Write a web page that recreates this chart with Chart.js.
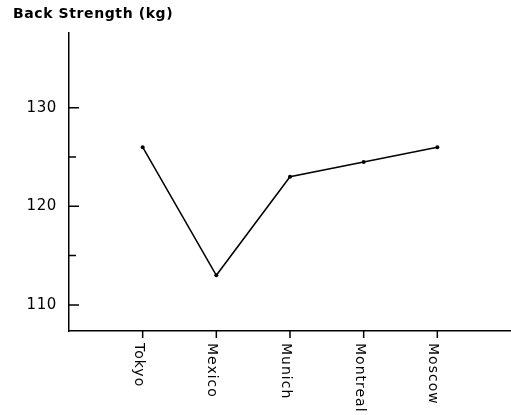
<!DOCTYPE html>
<html>
<head>
<meta charset="utf-8">
<script src="https://cdn.jsdelivr.net/npm/chart.js@4/dist/chart.umd.min.js"></script>
<style>
  html, body { margin: 0; padding: 0; background: #fff; }
  #wrap { width: 511px; height: 415px; }
</style>
</head>
<body>
<div id="wrap"><canvas id="c"></canvas></div>
<script>
// Olympic venues and mean back strength (kg)
const games = ['Tokyo', 'Mexico', 'Munich', 'Montreal', 'Moscow'];
const backStrength = [126, 113, 123, 124.5, 126];
const yTickValues = [110, 120, 130];
const yMinorTicks = [115, 125];
const yRange = [107.35, 137.6];
const titleText = 'Back Strength (kg)';

const ink = '#000';

// Slightly open letter spacing for the title and axis numbers
const textSpacing = {
  id: 'textSpacing',
  beforeDraw(chart) { chart.ctx.letterSpacing = '0.6px'; }
};

// Inward tick marks on the y axis, downward ticks and rotated venue names on the x axis
const axisMarks = {
  id: 'axisMarks',
  afterDraw(chart) {
    const ctx = chart.ctx;
    const xs = chart.scales.x, ys = chart.scales.y;
    const ax = chart.chartArea.left, ay = chart.chartArea.bottom;
    ctx.save();
    ctx.strokeStyle = ink;
    ctx.lineWidth = 1.5;
    ctx.beginPath();
    yTickValues.forEach(v => {
      const p = ys.getPixelForValue(v);
      ctx.moveTo(ax, p); ctx.lineTo(ax + 10, p);
    });
    yMinorTicks.forEach(v => {
      const p = ys.getPixelForValue(v);
      ctx.moveTo(ax, p); ctx.lineTo(ax + 7, p);
    });
    games.forEach((g, i) => {
      const p = xs.getPixelForValue(i);
      ctx.moveTo(p, ay); ctx.lineTo(p, ay + 7);
    });
    ctx.stroke();

    ctx.fillStyle = ink;
    ctx.font = '14px "DejaVu Sans"';
    ctx.letterSpacing = '1px';
    ctx.textAlign = 'left';
    ctx.textBaseline = 'alphabetic';
    games.forEach((g, i) => {
      const p = xs.getPixelForValue(i);
      ctx.save();
      ctx.translate(p - 8, ay + 12);
      ctx.rotate(Math.PI / 2);
      ctx.fillText(g, 0, 0);
      ctx.restore();
    });
    ctx.restore();
    ctx.letterSpacing = '0px';
  }
};

new Chart(document.getElementById('c'), {
  type: 'line',
  data: {
    datasets: [{
      data: games.map((g, i) => ({ x: i, y: backStrength[i] })),
      borderColor: ink,
      backgroundColor: ink,
      borderWidth: 1.5,
      pointRadius: 2,
      pointBorderWidth: 0,
      pointBackgroundColor: ink,
      tension: 0,
      fill: false
    }]
  },
  options: {
    responsive: true,
    maintainAspectRatio: false,
    devicePixelRatio: 1,
    animation: false,
    layout: { autoPadding: false, padding: { left: 13, right: 0, top: 0, bottom: 0 } },
    plugins: {
      legend: { display: false },
      tooltip: { enabled: false },
      title: {
        display: true,
        text: titleText,
        align: 'start',
        color: ink,
        font: { family: 'DejaVu Sans', size: 14, weight: 'bold' },
        padding: { top: 6, bottom: 10 }
      }
    },
    scales: {
      x: {
        type: 'linear',
        min: -1,
        max: 5,
        grid: { display: true, drawOnChartArea: false, drawTicks: false },
        border: { color: ink, width: 1.5 },
        ticks: { display: false },
        afterFit(s) { s.height = 84; }
      },
      y: {
        min: yRange[0],
        max: yRange[1],
        grid: { display: true, drawOnChartArea: false, drawTicks: false },
        border: { color: ink, width: 1.5 },
        ticks: {
          color: ink,
          padding: 12,
          font: { family: 'DejaVu Sans', size: 15 }
        },
        afterBuildTicks(s) { s.ticks = yTickValues.map(v => ({ value: v })); },
        afterFit(s) { s.width = 56; }
      }
    }
  },
  plugins: [textSpacing, axisMarks]
});
</script>
</body>
</html>
